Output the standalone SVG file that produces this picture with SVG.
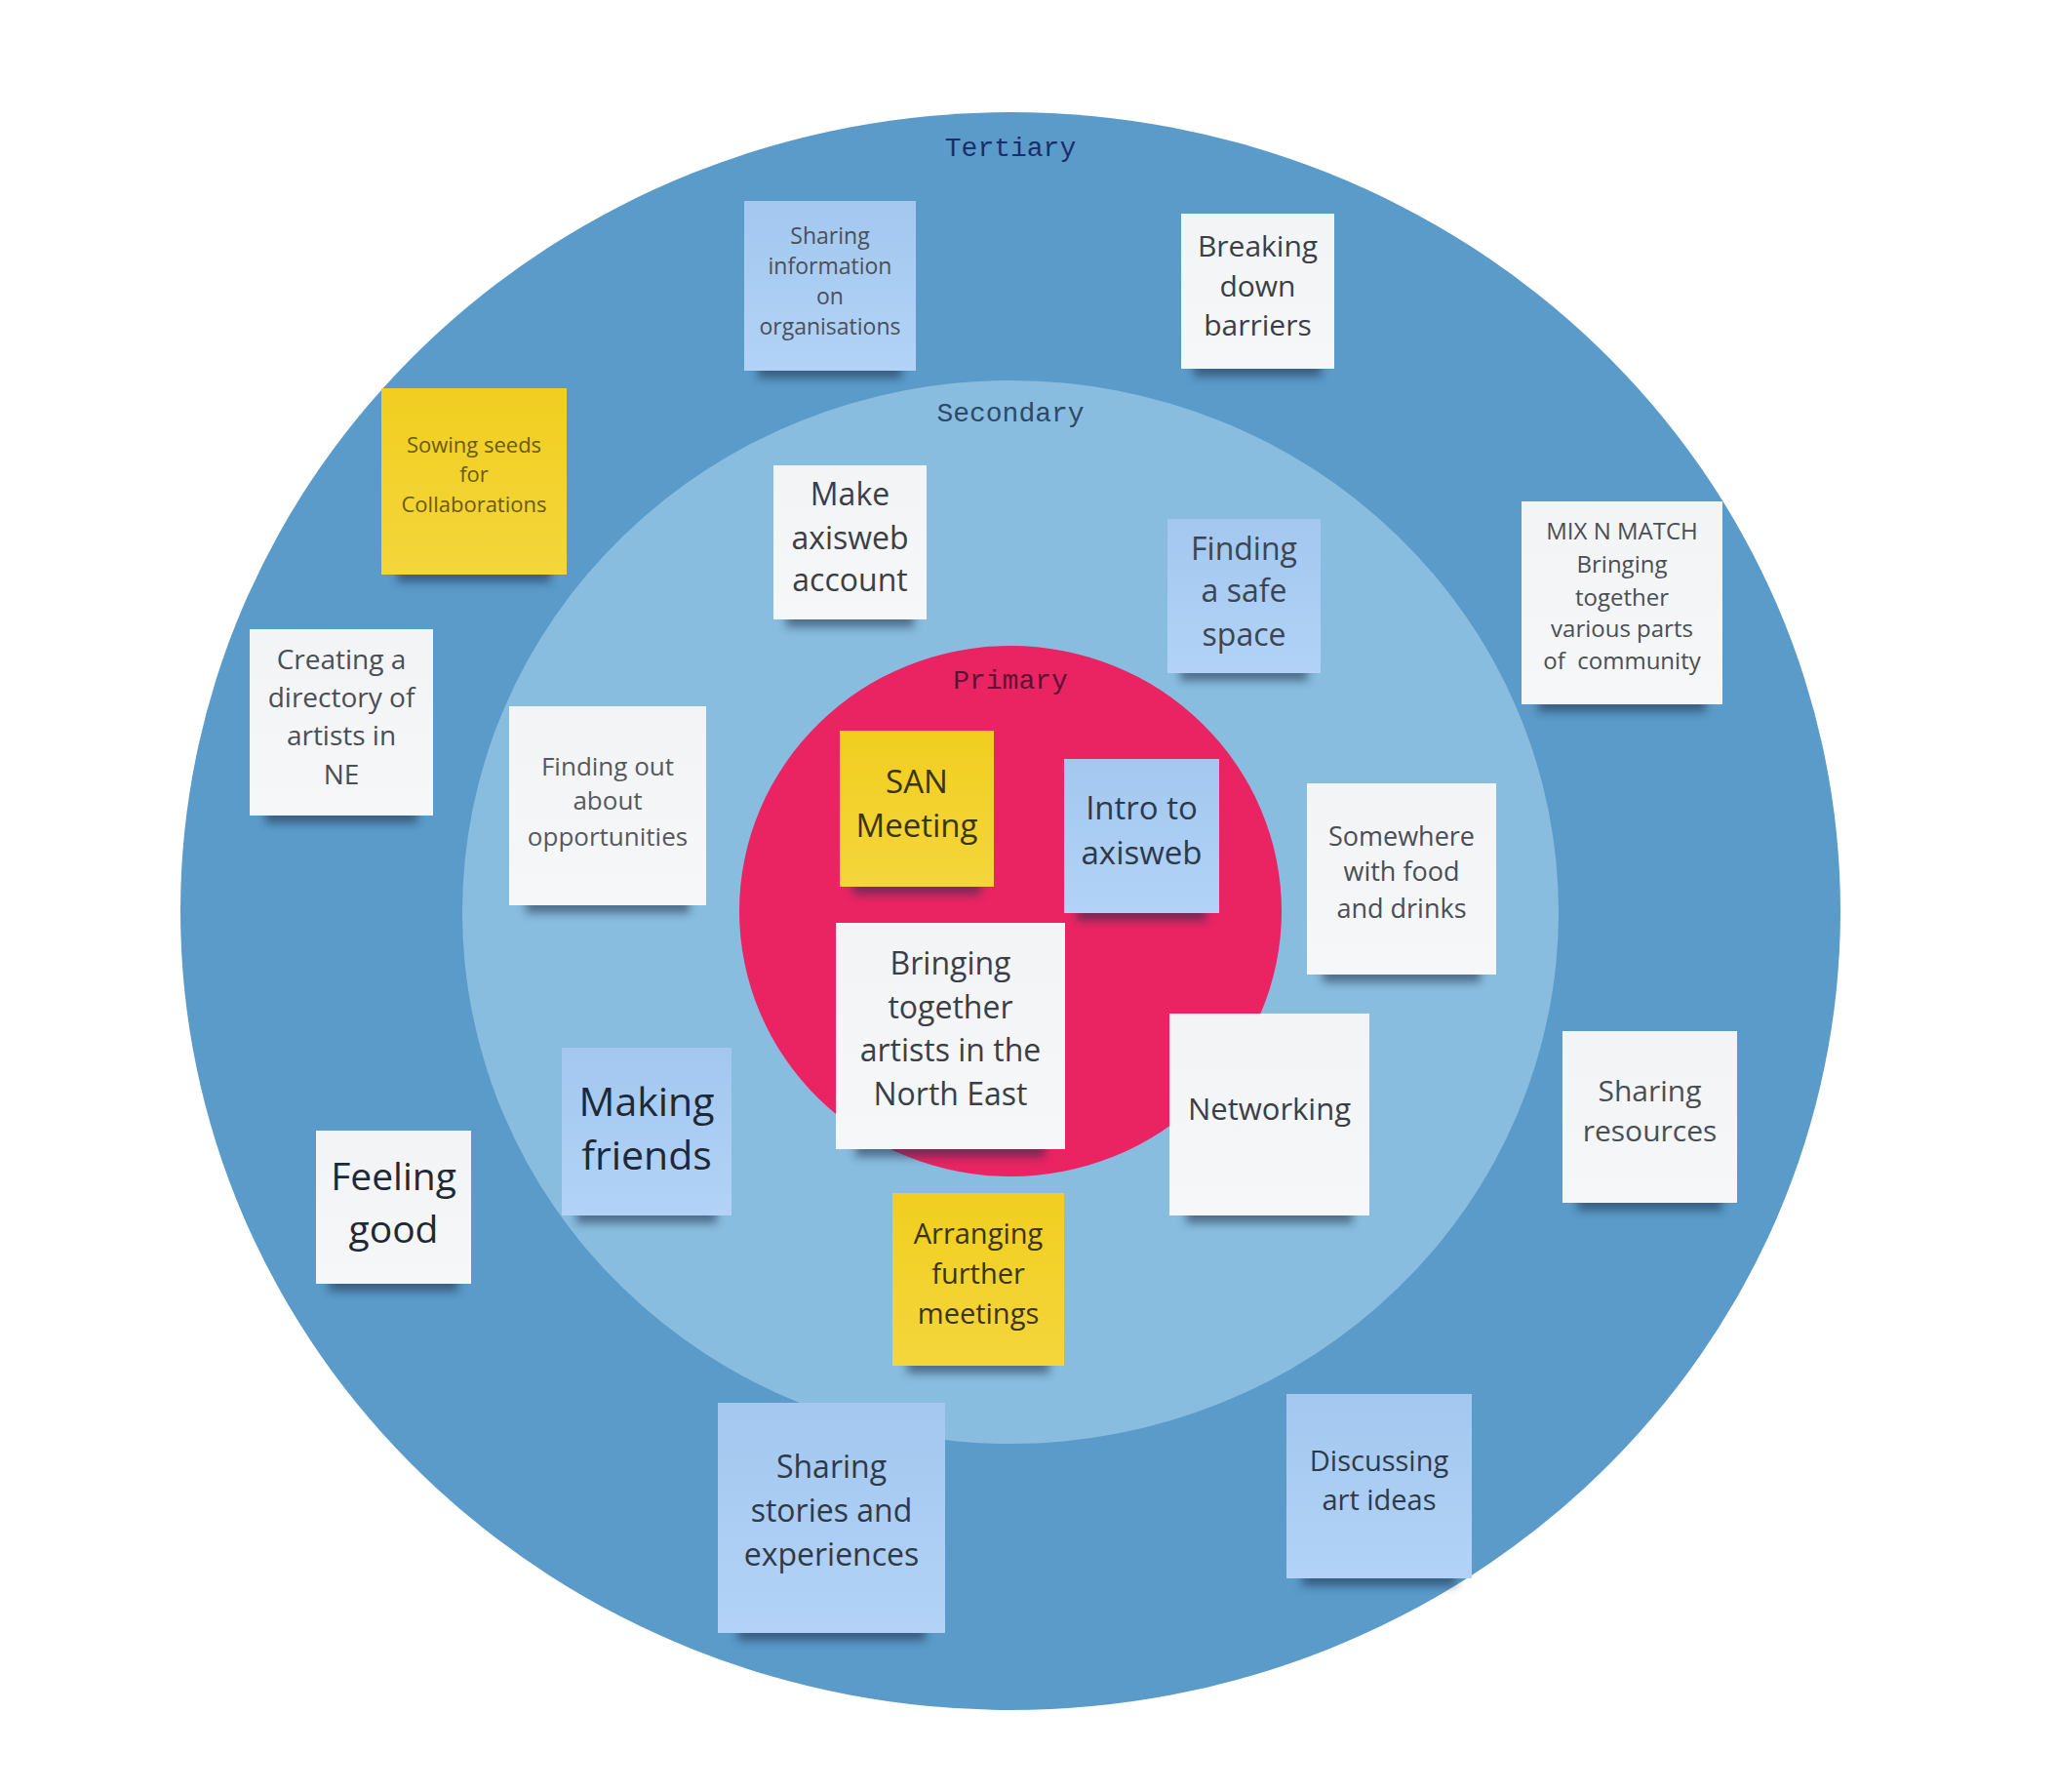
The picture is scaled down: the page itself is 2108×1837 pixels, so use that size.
<svg xmlns="http://www.w3.org/2000/svg" width="2108" height="1837" viewBox="0 0 2108 1837">
<style>
.lbl{font-family:"Liberation Mono","DejaVu Sans Mono",monospace;font-size:28px;text-anchor:middle}
.t{font-family:"Open Sans","Noto Sans","Liberation Sans",sans-serif;text-anchor:middle;fill:#3b3f45}
.sh{fill:#1a2f48;opacity:.55;filter:url(#blur)}
.blue{fill:url(#gBlue)}
.yel{fill:url(#gYel)}
.wht{fill:url(#gWht)}
</style>
<defs>
<filter id="blur" x="-20%" y="-100%" width="140%" height="300%"><feGaussianBlur stdDeviation="5"/></filter>
<linearGradient id="gBlue" x1="0" y1="0" x2="0" y2="1"><stop offset="0" stop-color="#a3c7ef"/><stop offset="1" stop-color="#b2d3f7"/></linearGradient>
<linearGradient id="gYel" x1="0" y1="0" x2="0" y2="1"><stop offset="0" stop-color="#f1ce1f"/><stop offset="1" stop-color="#f4d63c"/></linearGradient>
<linearGradient id="gWht" x1="0" y1="0" x2="0" y2="1"><stop offset="0" stop-color="#f3f4f6"/><stop offset="1" stop-color="#f6f7f8"/></linearGradient>
</defs>
<rect width="2108" height="1837" fill="#ffffff"/>
<g id="rings">
<ellipse cx="1036" cy="934" rx="851" ry="819" fill="#5b9bca"/>
<ellipse cx="1036" cy="935" rx="562" ry="545" fill="#89bddf"/>
<ellipse cx="1036" cy="934" rx="278" ry="272" fill="#ea2463"/>
<text class="lbl" x="1036" y="160" fill="#1b2d6b">Tertiary</text>
<text class="lbl" x="1036" y="432" fill="#2c4a68">Secondary</text>
<text class="lbl" x="1036" y="706" fill="#5a1232">Primary</text>
</g>
<g id="connectors"></g>
<g id="n-info" transform="translate(763,206)">
<rect class="sh" x="14" y="162" width="148" height="20"/>
<rect class="blue" width="176" height="174"/>
<text class="t" font-size="23" style="fill:#4a5058"><tspan x="88" y="44">Sharing</tspan><tspan x="88" y="75">information</tspan><tspan x="88" y="106">on</tspan><tspan x="88" y="137">organisations</tspan></text>
</g>
<g id="n-breaking" transform="translate(1211,219)">
<rect class="sh" x="13" y="147" width="131" height="20"/>
<rect class="wht" width="157" height="159"/>
<text class="t" font-size="30"><tspan x="78.5" y="44">Breaking</tspan><tspan x="78.5" y="85">down</tspan><tspan x="78.5" y="125">barriers</tspan></text>
</g>
<g id="n-sowing" transform="translate(391,398)">
<rect class="sh" x="16" y="179" width="158" height="20"/>
<rect class="yel" width="190" height="191"/>
<text class="t" font-size="22" style="fill:#6a5a12"><tspan x="95" y="66">Sowing seeds</tspan><tspan x="95" y="96">for</tspan><tspan x="95" y="127">Collaborations</tspan></text>
</g>
<g id="n-make" transform="translate(793,477)">
<rect class="sh" x="13" y="146" width="131" height="20"/>
<rect class="wht" width="157" height="158"/>
<text class="t" font-size="32"><tspan x="78.5" y="41">Make</tspan><tspan x="78.5" y="86">axisweb</tspan><tspan x="78.5" y="129">account</tspan></text>
</g>
<g id="n-safe" transform="translate(1197,532)">
<rect class="sh" x="13" y="146" width="131" height="20"/>
<rect class="blue" width="157" height="158"/>
<text class="t" font-size="32" style="fill:#3c4652"><tspan x="78.5" y="42">Finding</tspan><tspan x="78.5" y="85">a safe</tspan><tspan x="78.5" y="130">space</tspan></text>
</g>
<g id="n-mix" transform="translate(1560,514)">
<rect class="sh" x="17" y="196" width="172" height="20"/>
<rect class="wht" width="206" height="208"/>
<text class="t" font-size="24" style="fill:#4a4e55;white-space:pre"><tspan x="103" y="39">MIX N MATCH</tspan><tspan x="103" y="73">Bringing</tspan><tspan x="103" y="107">together</tspan><tspan x="103" y="139">various parts</tspan><tspan x="103" y="172">of  community</tspan></text>
</g>
<g id="n-creating" transform="translate(256,645)">
<rect class="sh" x="16" y="179" width="156" height="20"/>
<rect class="wht" width="188" height="191"/>
<text class="t" font-size="28" style="fill:#4a4e55"><tspan x="94" y="41">Creating a</tspan><tspan x="94" y="80">directory of</tspan><tspan x="94" y="119">artists in</tspan><tspan x="94" y="159">NE</tspan></text>
</g>
<g id="n-findout" transform="translate(522,724)">
<rect class="sh" x="17" y="192" width="168" height="20"/>
<rect class="wht" width="202" height="204"/>
<text class="t" font-size="26" style="fill:#55595f"><tspan x="101" y="71">Finding out</tspan><tspan x="101" y="106">about</tspan><tspan x="101" y="143">opportunities</tspan></text>
</g>
<g id="n-san" transform="translate(861,749)">
<rect class="sh" x="13" y="148" width="132" height="20"/>
<rect class="yel" width="158" height="160"/>
<text class="t" font-size="33" style="fill:#3a3410"><tspan x="79" y="64">SAN</tspan><tspan x="79" y="109">Meeting</tspan></text>
</g>
<g id="n-intro" transform="translate(1091,778)">
<rect class="sh" x="13" y="146" width="133" height="20"/>
<rect class="blue" width="159" height="158"/>
<text class="t" font-size="33" style="fill:#2f3a48"><tspan x="79.5" y="62">Intro to</tspan><tspan x="79.5" y="108">axisweb</tspan></text>
</g>
<g id="n-somewhere" transform="translate(1340,803)">
<rect class="sh" x="16" y="184" width="162" height="20"/>
<rect class="wht" width="194" height="196"/>
<text class="t" font-size="27" style="fill:#4a4e55"><tspan x="97" y="64">Somewhere</tspan><tspan x="97" y="100">with food</tspan><tspan x="97" y="138">and drinks</tspan></text>
</g>
<g id="n-bringing" transform="translate(857,946)">
<rect class="sh" x="20" y="220" width="195" height="20"/>
<rect class="wht" width="235" height="232"/>
<text class="t" font-size="32"><tspan x="117.5" y="53">Bringing</tspan><tspan x="117.5" y="98">together</tspan><tspan x="117.5" y="142">artists in the</tspan><tspan x="117.5" y="187">North East</tspan></text>
</g>
<g id="n-networking" transform="translate(1199,1039)">
<rect class="sh" x="17" y="195" width="171" height="20"/>
<rect class="wht" width="205" height="207"/>
<text class="t" font-size="31"><tspan x="102.5" y="109">Networking</tspan></text>
</g>
<g id="n-resources" transform="translate(1602,1057)">
<rect class="sh" x="15" y="164" width="149" height="20"/>
<rect class="wht" width="179" height="176"/>
<text class="t" font-size="30" style="fill:#4a4e55"><tspan x="89.5" y="72">Sharing</tspan><tspan x="89.5" y="113">resources</tspan></text>
</g>
<g id="n-making" transform="translate(576,1074)">
<rect class="sh" x="15" y="160" width="144" height="20"/>
<rect class="blue" width="174" height="172"/>
<text class="t" font-size="41" style="fill:#1f2935"><tspan x="87" y="70">Making</tspan><tspan x="87" y="125">friends</tspan></text>
</g>
<g id="n-feeling" transform="translate(324,1159)">
<rect class="sh" x="13" y="145" width="133" height="20"/>
<rect class="wht" width="159" height="157"/>
<text class="t" font-size="39" style="fill:#1f2935"><tspan x="79.5" y="61">Feeling</tspan><tspan x="79.5" y="115">good</tspan></text>
</g>
<g id="n-arranging" transform="translate(915,1223)">
<rect class="sh" x="15" y="165" width="146" height="20"/>
<rect class="yel" width="176" height="177"/>
<text class="t" font-size="29" style="fill:#3a3410"><tspan x="88" y="52">Arranging</tspan><tspan x="88" y="93">further</tspan><tspan x="88" y="134">meetings</tspan></text>
</g>
<g id="n-stories" transform="translate(736,1438)">
<rect class="sh" x="20" y="224" width="193" height="20"/>
<rect class="blue" width="233" height="236"/>
<text class="t" font-size="32" style="fill:#2f3a48"><tspan x="116.5" y="77">Sharing</tspan><tspan x="116.5" y="122">stories and</tspan><tspan x="116.5" y="167">experiences</tspan></text>
</g>
<g id="n-discussing" transform="translate(1319,1429)">
<rect class="sh" x="16" y="177" width="158" height="20"/>
<rect class="blue" width="190" height="189"/>
<text class="t" font-size="29" style="fill:#2f3a48"><tspan x="95" y="79">Discussing</tspan><tspan x="95" y="119">art ideas</tspan></text>
</g>
</svg>
